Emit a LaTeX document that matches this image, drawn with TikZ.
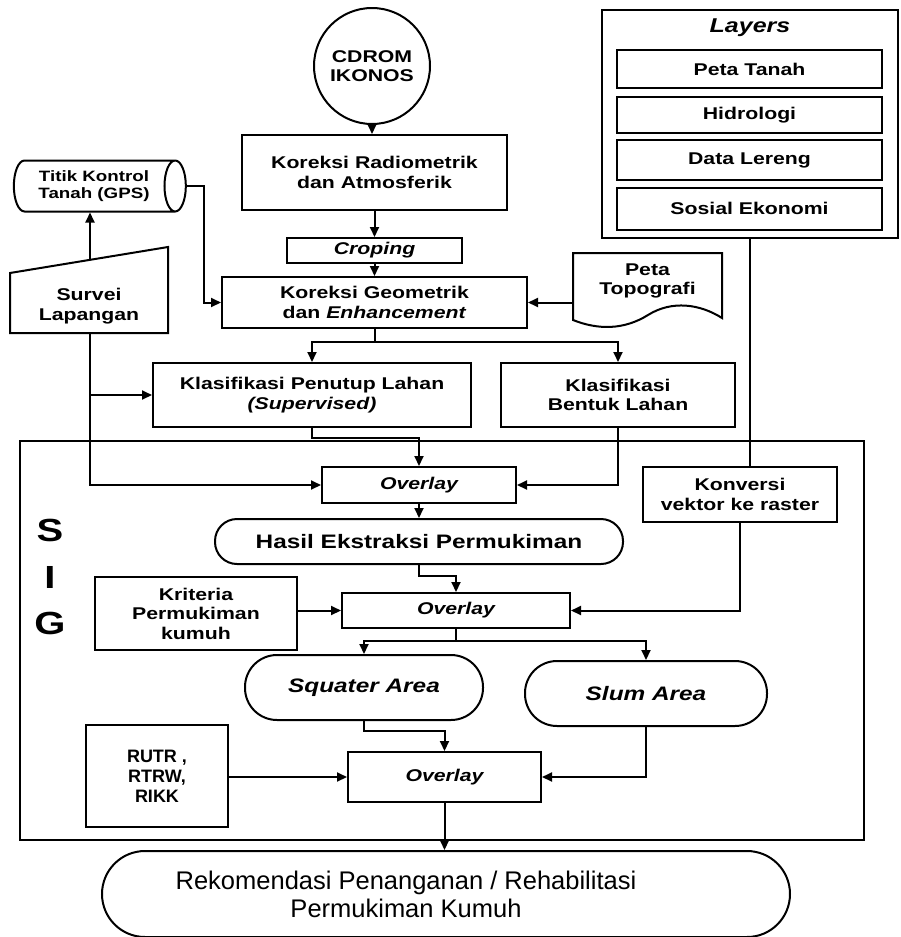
\documentclass[tikz,border=0pt]{standalone}
\usepackage{fontspec}
\setmainfont{Liberation Sans}
\newfontfamily\widesans{Liberation Sans}[FakeStretch=1.25]
\usepackage{tikz}
\usetikzlibrary{shapes,positioning,calc}
\usetikzlibrary{shapes.geometric}
\usetikzlibrary{arrows.meta}
\newcommand{\boxfont}{\widesans\bfseries\fontsize{17}{19.5}\selectfont}
\newcommand{\boxfontit}{\widesans\bfseries\itshape\fontsize{17}{19.5}\selectfont}
\tikzstyle{kotak} = [rectangle, draw=black, line width=2pt, align=center, inner sep=0pt, font=\boxfont]
\tikzstyle{teks} = [align=center, inner sep=0pt, font=\boxfont]
\tikzstyle{garis} = [line width=2pt]
\tikzstyle{arrow} = [line width=2pt,-{Triangle[length=10pt,width=9pt]}]

\begin{document}
\begin{tikzpicture}[x=1pt,y=-1pt]
\useasboundingbox (0,0) rectangle (901,937);
% SIG frame
\node[kotak, minimum width=844pt, minimum height=399pt] (sig) at (442,640.5) {};
\node[teks, font=\widesans\bfseries\fontsize{32}{32}\selectfont] (hurufS) at (50,530) {S};
\node[teks, font=\widesans\bfseries\fontsize{32}{32}\selectfont] (hurufI) at (50,577) {I};
\node[teks, font=\widesans\bfseries\fontsize{32}{32}\selectfont] (hurufG) at (50,623) {G};

% layers
\node[kotak, minimum width=296pt, minimum height=228pt] (layers) at (750,124) {};
\node[teks, font=\widesans\bfseries\itshape\fontsize{20}{22}\selectfont] (layersjudul) at (750,28) {Layers};
\node[kotak, minimum width=265pt, minimum height=38pt] (petatanah) at (749.5,69) {Peta Tanah};
\node[kotak, minimum width=265pt, minimum height=36pt] (hidrologi) at (749.5,115) {Hidrologi};
\node[kotak, minimum width=265pt, minimum height=40pt] (lereng) at (749.5,160) {Data Lereng};
\node[kotak, minimum width=265pt, minimum height=42pt] (sosek) at (749.5,208.5) {Sosial Ekonomi};

% citra
\node[circle, draw, line width=2pt, minimum size=116pt, align=center, inner sep=0pt, font=\boxfont] (cdrom) at (372,66) {CDROM\\IKONOS};
\node[kotak, minimum width=265pt, minimum height=75pt] (krad) at (374.5,172.5) {Koreksi Radiometrik\\dan Atmosferik};
\node[kotak, minimum width=175pt, minimum height=25pt, font=\boxfontit] (crop) at (374.5,250.5) {Croping};
\node[kotak, minimum width=305pt, minimum height=51pt] (kgeo) at (374.5,302.5) {Koreksi Geometrik\\dan \textit{Enhancement}};

% lapangan
\node[cylinder, draw, line width=2pt, shape aspect=.7, minimum height=172pt, minimum width=51pt, align=center, inner sep=0pt, font=\widesans\bfseries\fontsize{15}{16.5}\selectfont] (gps) at (94,186) {Titik Kontrol\\Tanah (GPS)};
\node[teks] (survei) at (89,306) {Survei\\Lapangan};
\draw[garis] (10,333) -- (168,333) -- (168,247) -- (10,273) -- cycle;
\coordinate (surveiatas) at (90,260);
\coordinate (surveibawah) at (90,333);

\node[teks, minimum width=149pt] (topo) at (647.5,281) {Peta\\Topografi};
\draw[garis] (573,253) -- (722,253) -- (722,318) .. controls (700,304) and (672,300) .. (648,315) .. controls (624,330) and (598,330) .. (573,320) -- cycle;

% klasifikasi
\node[kotak, minimum width=318pt, minimum height=64pt] (penutup) at (312,395) {Klasifikasi Penutup Lahan\\\textit{(Supervised)}};
\node[kotak, minimum width=234pt, minimum height=64pt] (bentuk) at (618,395) {Klasifikasi\\Bentuk Lahan};

% overlay
\node[kotak, minimum width=194pt, minimum height=36pt, font=\boxfontit] (overlay1) at (419,485) {Overlay};
\node[kotak, minimum width=194pt, minimum height=55pt] (konversi) at (740,494.5) {Konversi\\vektor ke raster};
\node[kotak, rounded corners=22pt, minimum width=408pt, minimum height=45pt, font=\widesans\bfseries\fontsize{19.5}{22}\selectfont] (hasil) at (419,541.5) {Hasil Ekstraksi Permukiman};
\node[kotak, minimum width=202pt, minimum height=73pt] (kriteria) at (196,613.5) {Kriteria\\Permukiman\\kumuh};
\node[kotak, minimum width=228pt, minimum height=35pt, font=\boxfontit] (overlay2) at (456,610.5) {Overlay};
\node[kotak, rounded corners=32pt, minimum width=238pt, minimum height=65pt, font=\widesans\bfseries\itshape\fontsize{19.5}{22}\selectfont] (squater) at (364,687.5) {Squater Area};
\node[kotak, rounded corners=32pt, minimum width=242pt, minimum height=65pt, font=\widesans\bfseries\itshape\fontsize{19.5}{22}\selectfont] (slum) at (646,693.5) {Slum Area};
\node[kotak, minimum width=142pt, minimum height=102pt, font=\bfseries\fontsize{18}{20}\selectfont] (rutr) at (157,776) {RUTR ,\\RTRW,\\RIKK};
\node[kotak, minimum width=193pt, minimum height=50pt, font=\boxfontit] (overlay3) at (444.5,777) {Overlay};

% hasil akhir
\node[kotak, rounded corners=43pt, minimum width=688pt, minimum height=86pt] (rekom) at (446,894) {};
\node[teks, font=\fontsize{25.5}{28}\selectfont] (rekomteks) at (406,894) {Rekomendasi Penanganan / Rehabilitasi\\Permukiman Kumuh};

% alur
\draw[arrow] (cdrom.south) -- (cdrom.south |- krad.north);
\draw[arrow] (krad.south) -- (crop.north);
\draw[arrow] (crop.south) -- (kgeo.north);
\draw[arrow] (gps.east) -- ++(17,0) |- (kgeo.west);
\draw[arrow] (topo.west |- kgeo.east) -- (kgeo.east);
\coordinate (cabang1) at ($(kgeo.south)+(0,13)$);
\draw[garis] (kgeo.south) -- (cabang1);
\draw[arrow] (cabang1) -| (penutup.north);
\draw[arrow] (cabang1) -| (bentuk.north);
\draw[arrow] (surveiatas) -- (surveiatas |- gps.south);
\draw[arrow] (surveibawah) |- (overlay1.west);
\draw[arrow] (surveibawah |- penutup.west) -- (penutup.west);
\draw[arrow] (penutup.south) -- ++(0,10) -| (overlay1.north);
\draw[arrow] (bentuk.south) |- (overlay1.east);
\draw[arrow] (overlay1.south) -- (hasil.north);
\draw[arrow] (hasil.south) -- ++(0,11) -| (overlay2.north);
\draw[garis] (layers.south) -- (layers.south |- konversi.north);
\draw[arrow] (konversi.south) |- (overlay2.east);
\draw[arrow] (kriteria.east |- overlay2.west) -- (overlay2.west);
\coordinate (cabang2) at ($(overlay2.south)+(0,12)$);
\draw[garis] (overlay2.south) -- (cabang2);
\draw[arrow] (cabang2) -| (squater.north);
\draw[arrow] (cabang2) -| (slum.north);
\draw[arrow] (squater.south) -- ++(0,10) -| (overlay3.north);
\draw[arrow] (slum.south) |- (overlay3.east);
\draw[arrow] (rutr.east |- overlay3.west) -- (overlay3.west);
\draw[arrow] (overlay3.south) -- (overlay3.south |- rekom.north);
\end{tikzpicture}
\end{document}
